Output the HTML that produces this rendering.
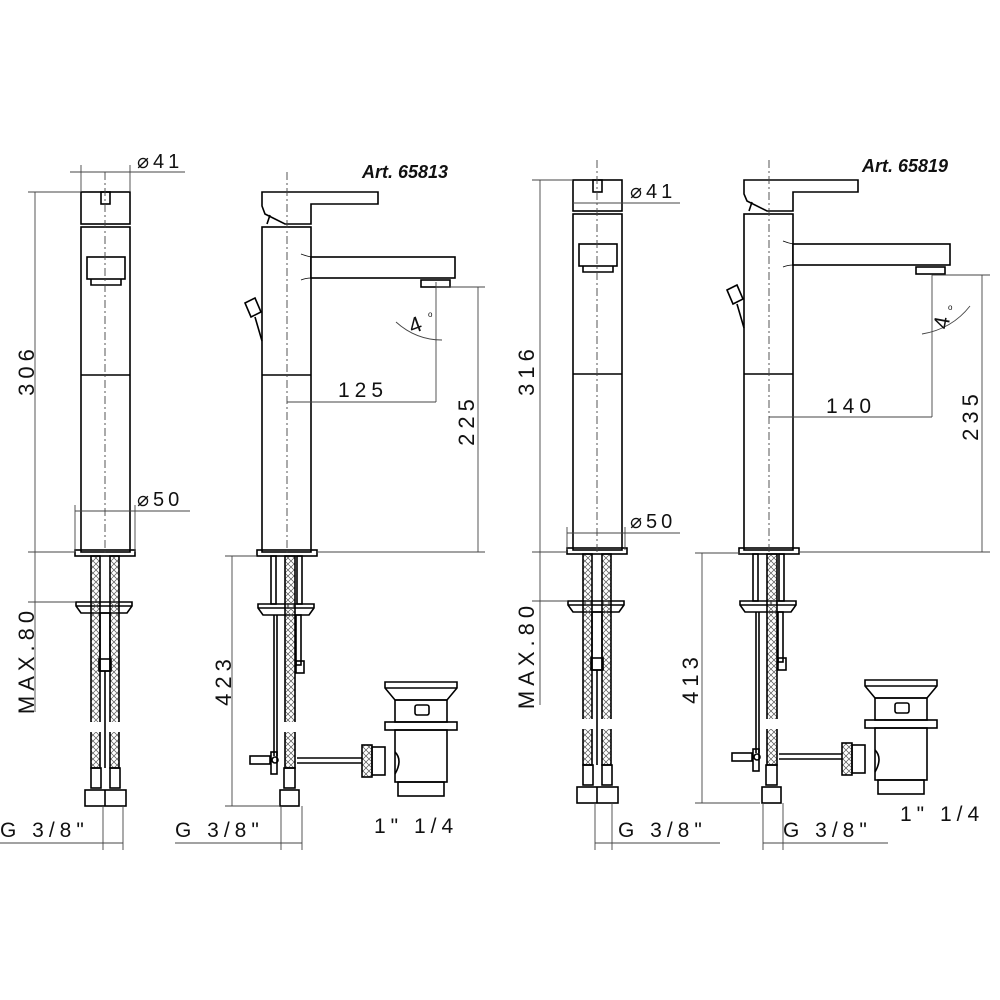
<!DOCTYPE html>
<html><head><meta charset="utf-8"><style>
html,body{margin:0;padding:0;background:#fff}
svg{display:block}
text{font-family:"Liberation Sans",sans-serif;fill:#111}
</style></head><body>
<svg id="s" width="1000" height="1000" viewBox="0 0 1000 1000" xmlns="http://www.w3.org/2000/svg">
<defs>
<pattern id="x" width="6" height="6" patternUnits="userSpaceOnUse">
<path d="M0 0L6 6M6 0L0 6" stroke="#555" stroke-width="0.7"/>
</pattern>
</defs>
<g id="g" fill="none" stroke="#000" stroke-width="1.6"></g>
<g id="d" fill="none" stroke="#444" stroke-width="0.9"></g>
<text x="137" y="168" font-size="20" letter-spacing="4">⌀41</text>
<text x="137" y="506" font-size="20" letter-spacing="4">⌀50</text>
<text x="362" y="178" font-size="18" font-style="italic" font-weight="bold">Art. 65813</text>
<text x="338" y="397" font-size="21" letter-spacing="5">125</text>
<text transform="translate(34,370) rotate(-90)" text-anchor="middle" font-size="22" letter-spacing="5">306</text>
<text transform="translate(474,420) rotate(-90)" text-anchor="middle" font-size="22" letter-spacing="5">225</text>
<text transform="translate(412,334) rotate(-20)" font-size="22">4</text><text x="428" y="317" font-size="8">o</text>
<text transform="translate(34,660) rotate(-90)" text-anchor="middle" font-size="22" letter-spacing="5">MAX.80</text>
<text transform="translate(231,680) rotate(-90)" text-anchor="middle" font-size="22" letter-spacing="5">423</text>
<text x="0" y="837" font-size="21" letter-spacing="5">G 3/8"</text>
<text x="175" y="837" font-size="21" letter-spacing="5">G 3/8"</text>
<text x="374" y="833" font-size="21" letter-spacing="5">1" 1/4</text>

<text x="630" y="198" font-size="20" letter-spacing="4">⌀41</text>
<text x="630" y="528" font-size="20" letter-spacing="4">⌀50</text>
<text x="862" y="172" font-size="18" font-style="italic" font-weight="bold">Art. 65819</text>
<text x="826" y="413" font-size="21" letter-spacing="5">140</text>
<text transform="translate(534,370) rotate(-90)" text-anchor="middle" font-size="22" letter-spacing="5">316</text>
<text transform="translate(978,415) rotate(-90)" text-anchor="middle" font-size="22" letter-spacing="5">235</text>
<text transform="translate(948,330) rotate(-80)" font-size="22">4</text><text x="948" y="310" font-size="8">o</text>
<text transform="translate(534,655) rotate(-90)" text-anchor="middle" font-size="22" letter-spacing="5">MAX.80</text>
<text transform="translate(698,678) rotate(-90)" text-anchor="middle" font-size="22" letter-spacing="5">413</text>
<text x="618" y="837" font-size="21" letter-spacing="5">G 3/8"</text>
<text x="783" y="837" font-size="21" letter-spacing="5">G 3/8"</text>
<text x="900" y="821" font-size="21" letter-spacing="5">1" 1/4</text>
</svg>
<script>
var G=[],D=[];
function r(x,y,w,h,e){G.push('<rect x="'+x+'" y="'+y+'" width="'+w+'" height="'+h+'" '+(e||'')+'/>');}
function l(a,b,c,d2,arr){(arr||G).push('<line x1="'+a+'" y1="'+b+'" x2="'+c+'" y2="'+d2+'"/>');}
function p(s,e){G.push('<path d="'+s+'" '+(e||'')+'/>');}
function dl(a,b,c,d2){l(a,b,c,d2,D);}
function dash(x,y1,y2){D.push('<line x1="'+x+'" y1="'+y1+'" x2="'+x+'" y2="'+y2+'" stroke-dasharray="8 3 2 3"/>');}
function hoses(xs,y1,y2,w){xs.forEach(function(x){
 r(x,y1,w,y2-y1,'fill="url(#x)"');});}
function lower(cx,base,fl,bot,twin){
 p('M'+(cx-29)+' '+fl+'H'+(cx+27)+'V'+(fl+4)+'L'+(cx+22)+' '+(fl+11)+'H'+(cx-24)+'L'+(cx-29)+' '+(fl+4)+'Z');
 l(cx-29,fl+4,cx+27,fl+4);
 if(twin){
  hoses([cx-14,cx+5],base,bot-38,9);
  G.push('<rect x="'+(cx-16)+'" y="'+(bot-84)+'" width="34" height="10" fill="#fff" stroke="none"/>');
  r(cx-5,fl+11,10,58);r(cx-6,fl+57,12,12);l(cx,fl+69,cx,bot-38);
  r(cx-14,bot-38,10,20);r(cx+5,bot-38,10,20);
  r(cx-20,bot-16,41,16);l(cx,bot-16,cx,bot);
 } else {
  r(cx-16,base,5,fl-base);r(cx-11,base,0,1);
  l(cx-13,fl+11,cx-13,bot-50);l(cx-10,fl+11,cx-10,bot-50);
  hoses([cx-2],base,bot-38,10);
  G.push('<rect x="'+(cx-4)+'" y="'+(bot-84)+'" width="20" height="10" fill="#fff" stroke="none"/>');
  r(cx+10,base,5,fl-base);r(cx+9,fl+11,5,50);r(cx+9,fl+57,8,12);
  r(cx-3,bot-38,11,20);r(cx-7,bot-16,19,16);
  r(cx-37,bot-50,20,8);G.push('<circle cx="'+(cx-12)+'" cy="'+(bot-46)+'" r="3"/>');r(cx-16,bot-54,6,22);
 }
}
function front(cx,capTop,bodyTop,split,base){
 r(cx-24,capTop,49,bodyTop-capTop-3);r(cx-4,capTop,9,12);
 r(cx-24,bodyTop,49,base-bodyTop);l(cx-24,split,cx+25,split);
 r(cx-18,bodyTop+30,38,22);p('M'+(cx-14)+' '+(bodyTop+52)+'v6h30v-6');
 r(cx-30,base-2,60,6);dash(cx,capTop-20,base+4);
}
function side(cx,capTop,leverEnd,bodyTop,split,base,sT,sB,sEnd){
 p('M'+(cx-25)+' '+capTop+'H'+leverEnd+'V'+(capTop+12)+'H'+(cx+24)+'V'+(bodyTop-3)+'H'+(cx-2)+'L'+(cx-22)+' '+(bodyTop-13)+'L'+(cx-25)+' '+(capTop+14)+'Z');
 l(cx-20,bodyTop-3,cx-17,bodyTop-12);
 r(cx-25,bodyTop,49,base-bodyTop);l(cx-25,split,cx+24,split);
 r(cx+24,sT,sEnd-cx-24,sB-sT,'fill="#fff"');
 p('M'+(cx+14)+' '+(sT-3)+'q5 2 10 3M'+(cx+14)+' '+(sB+2)+'q5 -2 10 -2','stroke-width="0.8"');
 r(sEnd-34,sB+2,29,7);
 p('M'+(cx-42)+' '+(bodyTop+76)+'l10 -5l6 14l-10 5zM'+(cx-32)+' '+(bodyTop+90)+'l7 24');
 r(cx-30,base-2,60,6);dash(cx,capTop-20,base+4);
}
function drain(x,y){
 p('M'+x+' '+y+'h72v6l-10 12h-52l-10 -12z');l(x,y+6,x+72,y+6);
 r(x+10,y+18,52,22);r(x+30,y+23,14,10,'rx="2"');
 r(x,y+40,72,8);r(x+10,y+48,52,52);r(x+13,y+100,46,14);
 p('M'+(x+10)+' '+(y+70)+'q8 8 0 22');
 r(x-13,y+65,13,28);r(x-23,y+63,10,32,'fill="url(#x)"');
}
front(105,192,227,375,552);lower(105,556,602,806,true);
side(287,192,378,227,375,552,257,278,455);lower(287,556,604,806,false);
drain(385,682);l(297,758,362,758);l(297,763,362,763);
front(597,180,214,374,550);lower(597,554,601,803,true);
side(769,180,858,214,374,550,244,265,950);lower(769,554,601,803,false);
drain(865,680);l(779,754,842,754);l(779,759,842,759);
dl(70,172,185,172);dl(81,165,81,192);dl(130,165,130,192);
dl(35,192,35,556);dl(28,192,80,192);dl(28,552,75,552);
dl(75,511,190,511);dl(75,505,75,552);dl(135,505,135,552);
dl(35,556,35,602);dl(28,602,75,602);dl(35,602,35,712);
dl(0,843,123,843);dl(103,806,103,850);dl(123,806,123,850);
dl(287,402,436,402);dl(436,282,436,402);
dl(478,287,478,552);dl(436,287,485,287);dl(317,552,485,552);
D.push('<path d="M396 322q20 18 46 18"/>');
dl(232,556,232,806);dl(225,556,257,556);dl(225,806,280,806);
dl(175,843,302,843);dl(281,806,281,850);dl(302,806,302,850);
dl(573,203,680,203);dl(540,180,540,552);dl(532,180,573,180);dl(532,552,567,552);
dl(567,533,680,533);dl(567,527,567,550);dl(625,527,625,550);
dl(540,552,540,601);dl(532,601,567,601);dl(540,601,540,705);
dl(595,843,720,843);dl(595,803,595,850);dl(612,803,612,850);
dl(769,417,932,417);dl(932,275,932,417);
dl(982,275,982,552);dl(932,275,990,275);dl(798,552,990,552);
D.push('<path d="M922 334q30 -5 48 -28"/>');
dl(702,553,702,803);dl(695,553,740,553);dl(695,803,760,803);
dl(763,843,888,843);dl(763,803,763,850);dl(783,803,783,850);
document.getElementById('g').innerHTML=G.join('');
document.getElementById('d').innerHTML=D.join('');
</script>
</body></html>
